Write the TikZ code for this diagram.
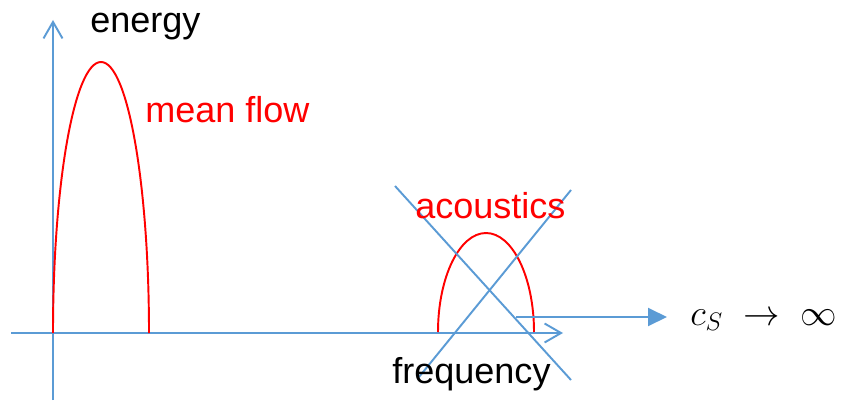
\documentclass[tikz,border=0pt]{standalone}
\usepackage{fontspec}
\setmainfont{Liberation Sans}
\usepackage{tikz}
\usetikzlibrary{arrows.meta}
\definecolor{axisBlue}{RGB}{91,155,213}
\definecolor{specRed}{RGB}{255,0,0}
\tikzset{
    every node/.append style={inner sep=0pt,anchor=base west,font=\fontsize{20.5}{24}\selectfont},
    axis/.style={draw=axisBlue,line width=1.1pt,-{Straight Barb[length=3.3mm,width=3.8mm,line width=1.1pt]}},
    cross/.style={draw=axisBlue,line width=1.1pt},
    sarr/.style={draw=axisBlue,line width=1.1pt,-{Triangle[length=3.8mm,width=3.6mm]}},
    spec/.style={draw=specRed,line width=1.1pt},
    lbl/.style={text=black},
    slbl/.style={text=specRed}
}

\begin{document}
\begin{tikzpicture}[x=0.02cm,y=0.02cm]
    \useasboundingbox (0,0) rectangle (841,403);
    % axes
    \coordinate (ybot)   at ( 53,  3);
    \coordinate (ytop)   at ( 53,383);
    \coordinate (xleft)  at ( 11, 70);
    \coordinate (xright) at (563, 70);
    \draw[axis] (ybot) -- (ytop);
    \draw[axis] (xleft) -- (xright);

    % spectra
    \coordinate (mfL) at ( 53, 70);
    \coordinate (acL) at (438, 71);
    \draw[spec] (mfL) arc[start angle=180,end angle=0,x radius=48,y radius=271];
    \draw[spec] (acL) arc[start angle=180,end angle=0,x radius=48,y radius=99];

    % crossed out acoustics
    \coordinate (xa1) at (395,217);
    \coordinate (xa2) at (571, 23);
    \coordinate (xb1) at (419, 26);
    \coordinate (xb2) at (571,213);
    \draw[cross] (xa1) -- (xa2);
    \draw[cross] (xb1) -- (xb2);

    % labels
    \node[lbl]  (energy)    at ( 90,370) {energy};
    \node[slbl] (meanflow)  at (145,281) {mean flow};
    \node[slbl] (acoustics) at (415,185) {acoustics};
    \node[lbl]  (frequency) at (392, 20) {frequency};
    \node[lbl]  (limit)     at (690, 78) {$c_S\;\to\;\infty$};

    \coordinate (shiftA) at (516,86);
    \coordinate (shiftB) at (667,86);
    \draw[sarr] (shiftA) -- (shiftB);
\end{tikzpicture}
\end{document}
